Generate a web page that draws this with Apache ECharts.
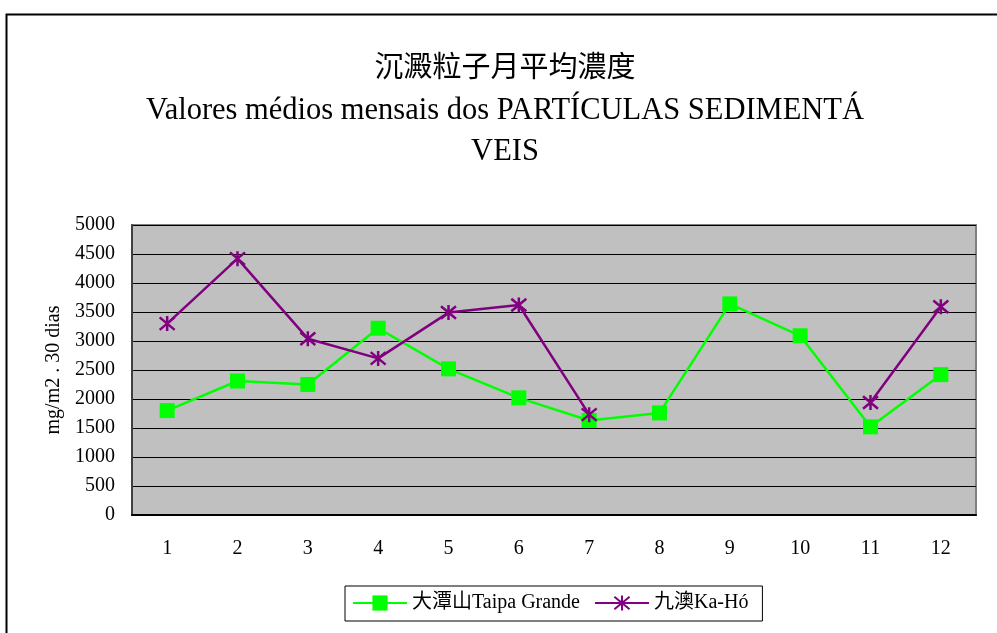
<!DOCTYPE html>
<html>
<head>
<meta charset="utf-8">
<script src="https://cdn.jsdelivr.net/npm/echarts@6/dist/echarts.min.js"></script>
<style>
  html, body { margin: 0; padding: 0; background: #fff; }
  #chart { width: 997px; height: 633px; }
</style>
</head>
<body>
<div id="chart"></div>
<script>
// 月份
var months = ['1', '2', '3', '4', '5', '6', '7', '8', '9', '10', '11', '12'];
// 大潭山 Taipa Grande
var taipaGrande = [1800, 2310, 2250, 3220, 2520, 2020, 1630, 1760, 3640, 3090, 1520, 2420];
// 九澳 Ka-Hó (8-10月无数据)
var kaHo = [3300, 4420, 3040, 2700, 3490, 3620, 1730, null, null, null, 1940, 3590];
var seriesNames = ['大潭山Taipa Grande', '九澳Ka-Hó'];
var titleLines = ['沉澱粒子月平均濃度', 'Valores médios mensais dos PARTÍCULAS SEDIMENTÁ', 'VEIS'];

var font = '"Liberation Serif", "Noto Sans CJK TC", serif';
var asterisk = 'path://M0,0L10,10M10,0L0,10M5,-1L5,11';

var chart = echarts.init(document.getElementById('chart'));
var option = {
  backgroundColor: '#fff',
  animation: false,
  // 外框
  graphic: [{
    type: 'rect',
    left: 4,
    top: 12,
    shape: { width: 1000, height: 700 },
    style: { fill: 'none', stroke: '#000', lineWidth: 2 },
    silent: true
  }],
  title: {
    text: '{zh|' + titleLines[0] + '}\n{pt|' + titleLines[1] + '}\n{pt|' + titleLines[2] + '}',
    left: 505,
    top: 49,
    padding: 0,
    textAlign: 'center',
    textStyle: {
      fontFamily: font,
      fontWeight: 'normal',
      color: '#000',
      rich: {
        zh: { fontFamily: font, fontSize: 29, lineHeight: 41, color: '#000' },
        pt: { fontFamily: font, fontSize: 30.5, lineHeight: 41, color: '#000' }
      }
    }
  },
  legend: {
    data: seriesNames,
    left: 345,
    top: 586,
    padding: [7, 14, 8, 7],
    itemGap: 14,
    itemWidth: 54,
    itemHeight: 19,
    borderColor: '#000',
    borderWidth: 1,
    textStyle: { fontFamily: font, fontSize: 20, color: '#000' }
  },
  grid: {
    left: 132,
    right: 21,
    top: 225,
    bottom: 118,
    show: true,
    backgroundColor: '#C0C0C0',
    borderColor: '#808080',
    borderWidth: 2
  },
  xAxis: {
    type: 'category',
    data: months,
    boundaryGap: true,
    axisLine: { lineStyle: { color: '#000', width: 2 } },
    axisTick: { inside: true, length: 6, lineStyle: { color: '#000' } },
    axisLabel: { fontFamily: font, fontSize: 20, color: '#000', margin: 24 }
  },
  yAxis: {
    type: 'value',
    min: 0,
    max: 5000,
    interval: 500,
    name: 'mg/m2 . 30 dias',
    nameLocation: 'middle',
    nameGap: 65,
    nameTextStyle: { fontFamily: font, fontSize: 20, color: '#000' },
    axisLine: { show: true, lineStyle: { color: '#404040', width: 2 } },
    axisTick: { show: false },
    axisLabel: {
      fontFamily: font, fontSize: 20, color: '#000', margin: 17,
      formatter: function (v) { return String(v); }
    },
    splitLine: { lineStyle: { color: '#000', width: 1 } }
  },
  series: [
    {
      name: seriesNames[0],
      type: 'line',
      data: taipaGrande,
      symbol: 'rect',
      symbolSize: 15,
      lineStyle: { color: '#00FF00', width: 2.5 },
      itemStyle: { color: '#00FF00' }
    },
    {
      name: seriesNames[1],
      type: 'line',
      data: kaHo,
      connectNulls: false,
      symbol: asterisk,
      symbolSize: 15,
      lineStyle: { color: '#800080', width: 2.5 },
      itemStyle: { color: '#800080', borderColor: '#800080', borderWidth: 2.5 }
    }
  ]
};
chart.setOption(option);
</script>
</body>
</html>
